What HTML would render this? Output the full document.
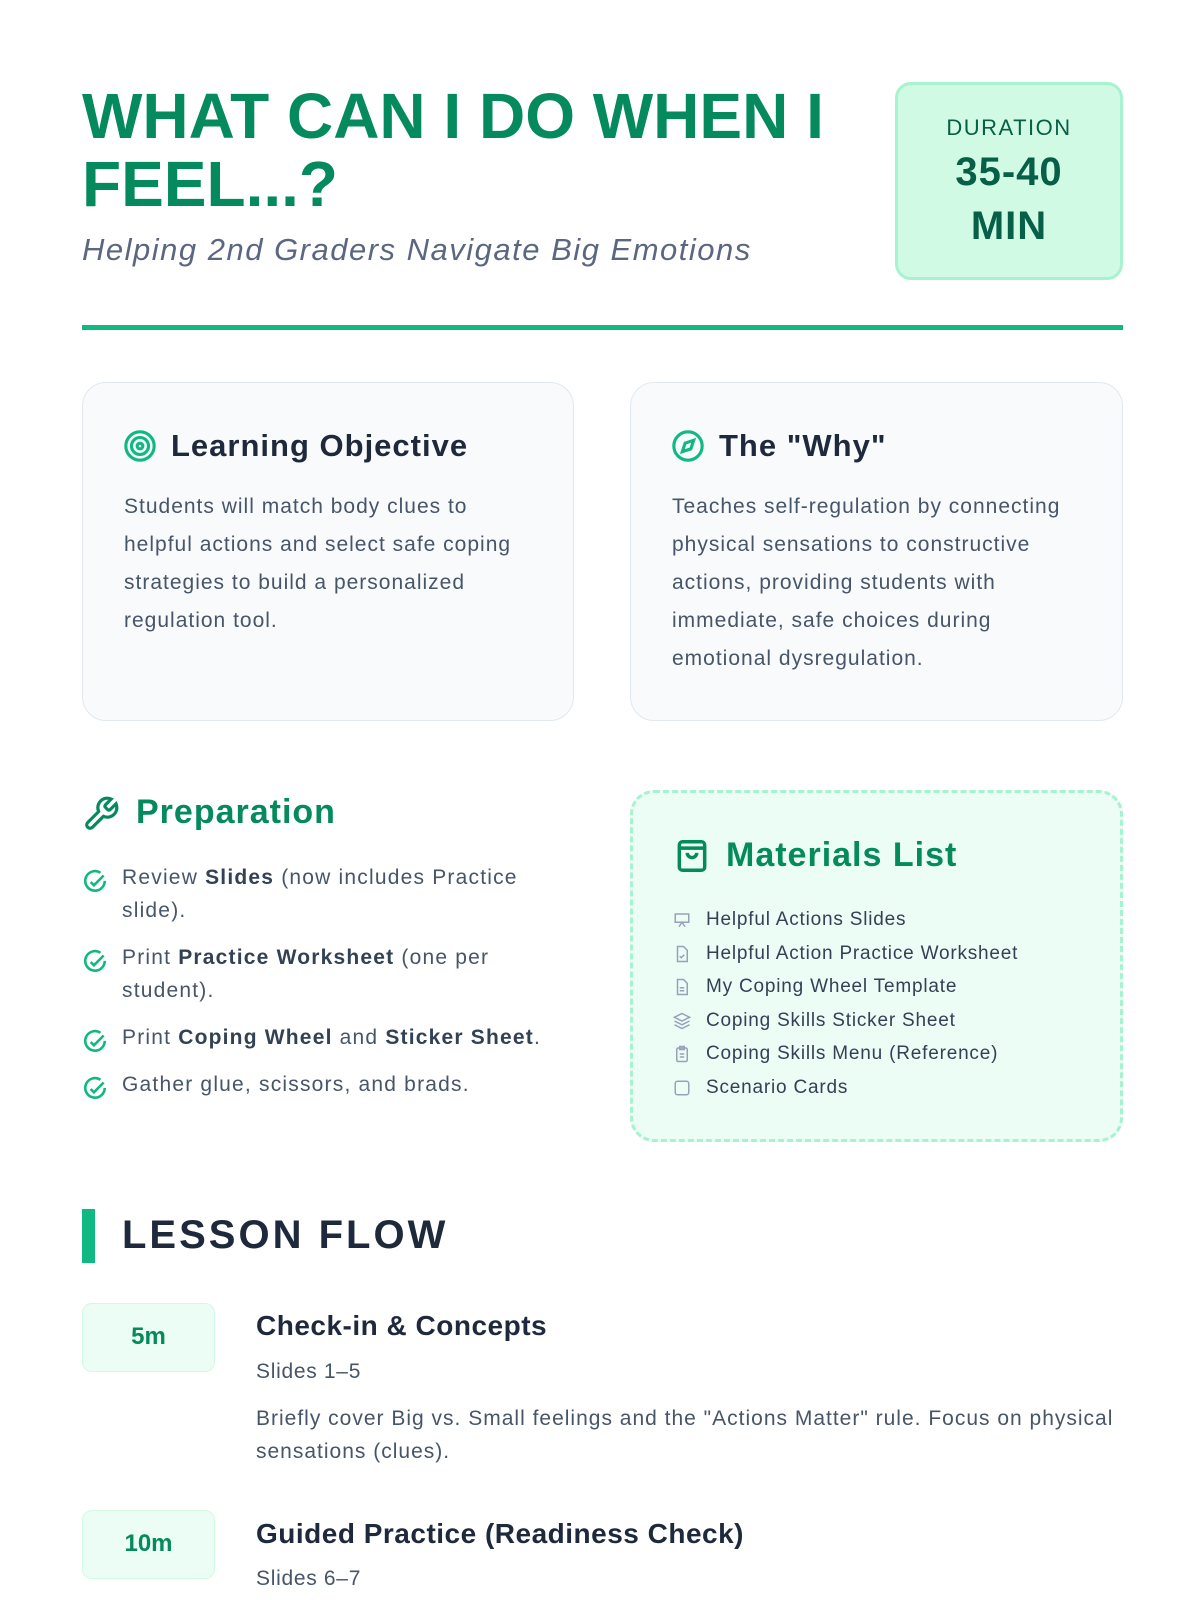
<!DOCTYPE html>
<html><head><meta charset="utf-8"><style>
*{margin:0;padding:0;box-sizing:border-box}
body{width:1200px;height:1600px;background:#fff;font-family:"Liberation Sans",sans-serif;position:relative;overflow:hidden;color:#475569}
.a{position:absolute}
h1{position:absolute;left:82px;top:82px;font-size:64px;line-height:68px;color:#058a5e;font-weight:bold;width:800px}
.sub{left:82px;top:232px;font-size:31px;font-style:italic;color:#5b6780;letter-spacing:1.5px}
.dur{left:895px;top:82px;width:228px;height:198px;background:#d1fae5;border:3px solid #a7f3d0;border-radius:16px;text-align:center;color:#065f46}
.card{background:#f8fafc;border:1.5px solid #e2e8f0;border-radius:24px}
.ch{font-size:31px;font-weight:bold;color:#1e293b;position:absolute;left:88px;top:45px;letter-spacing:1px}
.cb{position:absolute;left:41px;top:105px;font-size:21px;line-height:38px;color:#475569;width:420px;letter-spacing:1px}
.prep li{list-style:none;position:relative;padding-left:40px;font-size:21px;line-height:33px;margin-bottom:14px;color:#475569;letter-spacing:1.2px}
.prep li b{color:#334155}
.prep svg{position:absolute;left:0;top:8px}
.mat div{font-size:19px;line-height:33.6px;color:#334155;position:relative;padding-left:33px;letter-spacing:0.8px}
.mat svg{position:absolute;left:0;top:8px}
.tb{background:#ecfdf5;border:1.5px solid #d1fae5;border-radius:10px;width:133px;height:69px;text-align:center;line-height:66px;font-size:24px;font-weight:bold;color:#058a5e}
.tt{font-size:28px;font-weight:bold;color:#1e293b;letter-spacing:0.5px}
.ts{font-size:21px;color:#475569;letter-spacing:0.7px}
</style></head><body>
<h1>WHAT CAN I DO WHEN I FEEL...?</h1>
<div class="a sub">Helping 2nd Graders Navigate Big Emotions</div>
<div class="a dur"><div style="margin-top:30px;font-size:22px;letter-spacing:1.5px">DURATION</div><div style="font-size:40px;font-weight:bold;line-height:54px;margin-top:4px;letter-spacing:1px">35-40<br>MIN</div></div>
<div class="a" style="left:82px;top:325px;width:1041px;height:5px;background:#10b981"></div>

<div class="a card" style="left:82px;top:382px;width:492px;height:339px">
<svg class="a" style="left:40px;top:46px" width="34" height="34" viewBox="0 0 24 24" fill="none" stroke="#10b981" stroke-width="2.2"><circle cx="12" cy="12" r="10"/><circle cx="12" cy="12" r="6"/><circle cx="12" cy="12" r="2"/></svg>
<div class="ch">Learning Objective</div>
<div class="cb" style="width:400px">Students will match body clues to helpful actions and select safe coping strategies to build a personalized regulation tool.</div></div>

<div class="a card" style="left:630px;top:382px;width:493px;height:339px">
<svg class="a" style="left:40px;top:46px" width="34" height="34" viewBox="0 0 24 24" fill="none" stroke="#10b981" stroke-width="2.2"><circle cx="12" cy="12" r="10"/><path d="M16 8l-2 6-6 2 2-6z"/></svg>
<div class="ch">The "Why"</div>
<div class="cb">Teaches self-regulation by connecting physical sensations to constructive actions, providing students with immediate, safe choices during emotional dysregulation.</div></div>

<svg class="a" style="left:82px;top:795px" width="38" height="38" viewBox="0 0 24 24" fill="none" stroke="#058a5e" stroke-width="2"><path d="M14.7 6.3a1 1 0 000 1.4l1.6 1.6a1 1 0 001.4 0l3.77-3.77a6 6 0 01-7.94 7.94l-6.91 6.91a2.12 2.12 0 01-3-3l6.91-6.91a6 6 0 017.94-7.94l-3.76 3.76z"/></svg>
<div class="a" style="left:136px;top:793px;font-size:34px;font-weight:bold;color:#058a5e;letter-spacing:1px">Preparation</div>
<ul class="a prep" style="left:82px;top:861px;width:460px">
<li><svg width="26" height="26" viewBox="0 0 24 24" fill="none" stroke="#10b981" stroke-width="2.4"><path d="M21 11a9 9 0 11-4-7.5"/><path d="M8 12l3 3 9-9"/></svg>Review <b>Slides</b> (now includes Practice slide).</li>
<li><svg width="26" height="26" viewBox="0 0 24 24" fill="none" stroke="#10b981" stroke-width="2.4"><path d="M21 11a9 9 0 11-4-7.5"/><path d="M8 12l3 3 9-9"/></svg>Print <b>Practice Worksheet</b> (one per student).</li>
<li style="white-space:nowrap"><svg width="26" height="26" viewBox="0 0 24 24" fill="none" stroke="#10b981" stroke-width="2.4"><path d="M21 11a9 9 0 11-4-7.5"/><path d="M8 12l3 3 9-9"/></svg>Print <b>Coping Wheel</b> and <b>Sticker Sheet</b>.</li>
<li><svg width="26" height="26" viewBox="0 0 24 24" fill="none" stroke="#10b981" stroke-width="2.4"><path d="M21 11a9 9 0 11-4-7.5"/><path d="M8 12l3 3 9-9"/></svg>Gather glue, scissors, and brads.</li>
</ul>

<div class="a" style="left:630px;top:790px;width:493px;height:352px;background:#ecfdf5;border:3px dashed #a7f3d0;border-radius:24px"></div>
<svg class="a" style="left:673px;top:837px" width="38" height="38" viewBox="0 0 24 24" fill="none" stroke="#058a5e" stroke-width="2.2"><rect x="4" y="3" width="16" height="18" rx="2"/><path d="M4 7h16"/><path d="M9 10a3 3 0 006 0"/></svg>
<div class="a" style="left:726px;top:836px;font-size:34px;font-weight:bold;color:#058a5e;letter-spacing:1px">Materials List</div>
<div class="a mat" style="left:673px;top:903px">
<div><svg width="18" height="18" viewBox="0 0 24 24" fill="none" stroke="#94a3b8" stroke-width="2"><path d="M3 4h18v11H3zM8 21l4-6 4 6"/></svg>Helpful Actions Slides</div>
<div><svg width="18" height="18" viewBox="0 0 24 24" fill="none" stroke="#94a3b8" stroke-width="2"><path d="M6 2h8l5 5v15H6z"/><path d="M9 15l2 2 4-4"/></svg>Helpful Action Practice Worksheet</div>
<div><svg width="18" height="18" viewBox="0 0 24 24" fill="none" stroke="#94a3b8" stroke-width="2"><path d="M6 2h8l5 5v15H6z"/><path d="M9 13h6M9 17h6"/></svg>My Coping Wheel Template</div>
<div><svg width="18" height="18" viewBox="0 0 24 24" fill="none" stroke="#94a3b8" stroke-width="2"><path d="M12 2l10 5-10 5-10-5zM2 12l10 5 10-5M2 17l10 5 10-5"/></svg>Coping Skills Sticker Sheet</div>
<div><svg width="18" height="18" viewBox="0 0 24 24" fill="none" stroke="#94a3b8" stroke-width="2"><rect x="5" y="4" width="14" height="18" rx="2"/><rect x="9" y="2" width="6" height="4"/><path d="M9 12h6M9 16h6"/></svg>Coping Skills Menu (Reference)</div>
<div><svg width="18" height="18" viewBox="0 0 24 24" fill="none" stroke="#94a3b8" stroke-width="2"><rect x="3" y="3" width="18" height="18" rx="3"/></svg>Scenario Cards</div>
</div>

<div class="a" style="left:82px;top:1209px;width:13px;height:54px;background:#10b981"></div>
<div class="a" style="left:122px;top:1213px;font-size:40px;font-weight:bold;color:#1e293b;letter-spacing:3px">LESSON FLOW</div>

<div class="a tb" style="left:82px;top:1303px">5m</div>
<div class="a tt" style="left:256px;top:1310px">Check-in &amp; Concepts</div>
<div class="a ts" style="left:256px;top:1360px">Slides 1–5</div>
<div class="a ts" style="left:256px;top:1402px;width:880px;line-height:33px;letter-spacing:1px">Briefly cover Big vs. Small feelings and the "Actions Matter" rule. Focus on physical sensations (clues).</div>

<div class="a tb" style="left:82px;top:1510px">10m</div>
<div class="a tt" style="left:256px;top:1518px">Guided Practice (Readiness Check)</div>
<div class="a ts" style="left:256px;top:1567px">Slides 6–7</div>
</body></html>
